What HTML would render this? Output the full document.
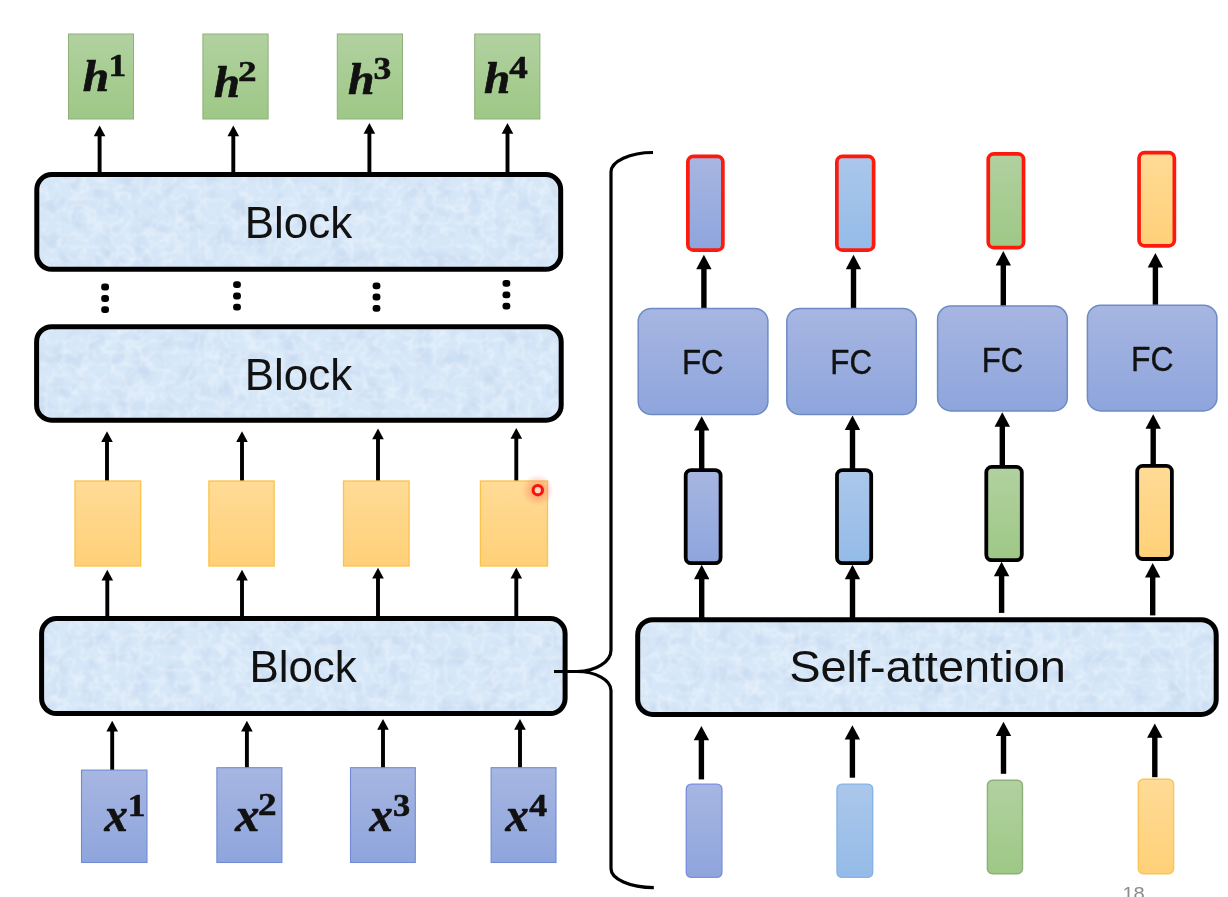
<!DOCTYPE html>
<html><head><meta charset="utf-8"><title>Transformer Encoder Block</title>
<style>
html,body{margin:0;padding:0;background:#fff;}
body{width:1228px;height:897px;overflow:hidden;font-family:"Liberation Sans",sans-serif;}
svg{display:block;filter:blur(0.45px);}
.sans{font-family:"Liberation Sans",sans-serif;fill:#111;}
.math{font-family:"Liberation Serif",serif;font-weight:bold;font-style:italic;fill:#111;}
.sup{font-family:"Liberation Serif",serif;font-weight:bold;font-style:normal;fill:#111;}
</style></head><body>
<svg width="1228" height="897" viewBox="0 0 1228 897">
<defs>
<linearGradient id="gGreen" x1="0" y1="0" x2="0" y2="1"><stop offset="0" stop-color="#b1d1a0"/><stop offset="1" stop-color="#9ec886"/></linearGradient>
<linearGradient id="gOrange" x1="0" y1="0" x2="0" y2="1"><stop offset="0" stop-color="#ffdb96"/><stop offset="1" stop-color="#ffd078"/></linearGradient>
<linearGradient id="gBlue" x1="0" y1="0" x2="0" y2="1"><stop offset="0" stop-color="#a7b6e2"/><stop offset="1" stop-color="#8ea5dc"/></linearGradient>
<linearGradient id="gLBlue" x1="0" y1="0" x2="0" y2="1"><stop offset="0" stop-color="#abc7ea"/><stop offset="1" stop-color="#94bbe8"/></linearGradient>
<radialGradient id="gGlow"><stop offset="0" stop-color="#ff3828" stop-opacity="0.5"/><stop offset="0.5" stop-color="#ff5a50" stop-opacity="0.28"/><stop offset="1" stop-color="#ff6050" stop-opacity="0"/></radialGradient>
<filter id="tex" x="0" y="0" width="100%" height="100%" color-interpolation-filters="sRGB">
<feTurbulence type="turbulence" baseFrequency="0.085" numOctaves="3" seed="11" result="n"/>
<feColorMatrix in="n" type="matrix" values="0 0 0 0 1  0 0 0 0 1  0 0 0 0 1  -1.7 0 0 0 0.50" result="w0"/>
<feGaussianBlur in="w0" stdDeviation="0.9" result="w"/>
<feComposite in="w" in2="SourceGraphic" operator="in" result="wc"/>
<feTurbulence type="fractalNoise" baseFrequency="0.06" numOctaves="2" seed="3" result="n2"/>
<feColorMatrix in="n2" type="matrix" values="0 0 0 0 0.70  0 0 0 0 0.78  0 0 0 0 0.90  0 0.9 0 0 -0.42" result="d"/>
<feComposite in="d" in2="SourceGraphic" operator="in" result="dc"/>
<feMerge><feMergeNode in="SourceGraphic"/><feMergeNode in="dc"/><feMergeNode in="wc"/></feMerge>
</filter>
</defs>
<rect width="1228" height="897" fill="#fff"/>

<rect x="68.5" y="34" width="65" height="85" fill="url(#gGreen)" stroke="#8fb07a" stroke-width="1"/>
<rect x="202.9" y="34" width="65.20000000000002" height="85" fill="url(#gGreen)" stroke="#8fb07a" stroke-width="1"/>
<rect x="337.3" y="34" width="65.19999999999999" height="85" fill="url(#gGreen)" stroke="#8fb07a" stroke-width="1"/>
<rect x="474.7" y="34" width="65.19999999999999" height="85" fill="url(#gGreen)" stroke="#8fb07a" stroke-width="1"/>
<text class="math" transform="translate(82.70,90.85) scale(0.4750,0.4391)" font-size="100" style="fill:#111" stroke="#111" stroke-width="1.53" stroke-linejoin="round">h</text>
<text class="sup" transform="translate(108.47,76.20) scale(0.3541,0.3242)" font-size="100" style="fill:#111" stroke="#111" stroke-width="1.77" stroke-linejoin="round">1</text>
<text class="math" transform="translate(213.92,96.75) scale(0.4667,0.4333)" font-size="100" style="fill:#111" stroke="#111" stroke-width="1.56" stroke-linejoin="round">h</text>
<text class="sup" transform="translate(238.11,81.00) scale(0.3714,0.3045)" font-size="100" style="fill:#111" stroke="#111" stroke-width="1.78" stroke-linejoin="round">2</text>
<text class="math" transform="translate(348.10,94.35) scale(0.4771,0.4362)" font-size="100" style="fill:#111" stroke="#111" stroke-width="1.53" stroke-linejoin="round">h</text>
<text class="sup" transform="translate(373.58,79.27) scale(0.3558,0.3149)" font-size="100" style="fill:#111" stroke="#111" stroke-width="1.79" stroke-linejoin="round">3</text>
<text class="math" transform="translate(484.00,93.05) scale(0.4729,0.4348)" font-size="100" style="fill:#111" stroke="#111" stroke-width="1.54" stroke-linejoin="round">h</text>
<text class="sup" transform="translate(509.33,78.20) scale(0.3702,0.3200)" font-size="100" style="fill:#111" stroke="#111" stroke-width="1.74" stroke-linejoin="round">4</text>
<line x1="99.6" y1="173" x2="99.6" y2="135.3" stroke="#000" stroke-width="3.9"/><polygon points="99.6,125.5 93.8,136.3 105.39999999999999,136.3" fill="#000"/>
<line x1="233.3" y1="173" x2="233.3" y2="135.3" stroke="#000" stroke-width="3.9"/><polygon points="233.3,125.5 227.5,136.3 239.10000000000002,136.3" fill="#000"/>
<line x1="369.4" y1="173" x2="369.4" y2="132.8" stroke="#000" stroke-width="3.9"/><polygon points="369.4,123 363.59999999999997,133.8 375.2,133.8" fill="#000"/>
<line x1="507.5" y1="173" x2="507.5" y2="132.8" stroke="#000" stroke-width="3.9"/><polygon points="507.5,123 501.7,133.8 513.3,133.8" fill="#000"/>
<rect x="36.8" y="174.5" width="523.9000000000001" height="94.80000000000001" rx="15" ry="15" fill="#d6e7f8" filter="url(#tex)"/><rect x="36.8" y="174.5" width="523.9000000000001" height="94.80000000000001" rx="15" ry="15" fill="none" stroke="#000" stroke-width="5"/><text class="sans" transform="translate(244.68,237.55) scale(0.4398,0.4486)" font-size="100" style="fill:#111">Block</text>
<rect x="101.19999999999999" y="283.6" width="7.8" height="6.8" rx="3" ry="3" fill="#000"/>
<rect x="101.19999999999999" y="295.1" width="7.8" height="6.8" rx="3" ry="3" fill="#000"/>
<rect x="101.19999999999999" y="306.20000000000005" width="7.8" height="6.8" rx="3" ry="3" fill="#000"/>
<rect x="233.1" y="281.20000000000005" width="7.8" height="6.8" rx="3" ry="3" fill="#000"/>
<rect x="233.1" y="292.6" width="7.8" height="6.8" rx="3" ry="3" fill="#000"/>
<rect x="233.1" y="303.8" width="7.8" height="6.8" rx="3" ry="3" fill="#000"/>
<rect x="372.6" y="282.40000000000003" width="7.8" height="6.8" rx="3" ry="3" fill="#000"/>
<rect x="372.6" y="293.6" width="7.8" height="6.8" rx="3" ry="3" fill="#000"/>
<rect x="372.6" y="305.0" width="7.8" height="6.8" rx="3" ry="3" fill="#000"/>
<rect x="502.5" y="280.0" width="7.8" height="6.8" rx="3" ry="3" fill="#000"/>
<rect x="502.5" y="291.40000000000003" width="7.8" height="6.8" rx="3" ry="3" fill="#000"/>
<rect x="502.5" y="302.70000000000005" width="7.8" height="6.8" rx="3" ry="3" fill="#000"/>
<rect x="36.6" y="326.7" width="524.6" height="93.5" rx="15" ry="15" fill="#d6e7f8" filter="url(#tex)"/><rect x="36.6" y="326.7" width="524.6" height="93.5" rx="15" ry="15" fill="none" stroke="#000" stroke-width="5"/><text class="sans" transform="translate(244.68,389.55) scale(0.4398,0.4486)" font-size="100" style="fill:#111">Block</text>
<line x1="107" y1="481" x2="107" y2="441.1" stroke="#000" stroke-width="3.9"/><polygon points="107,431.3 101.2,442.1 112.8,442.1" fill="#000"/>
<line x1="242" y1="481" x2="242" y2="441.1" stroke="#000" stroke-width="3.9"/><polygon points="242,431.3 236.2,442.1 247.8,442.1" fill="#000"/>
<line x1="378" y1="481" x2="378" y2="438.2" stroke="#000" stroke-width="3.9"/><polygon points="378,428.4 372.2,439.2 383.8,439.2" fill="#000"/>
<line x1="516.3" y1="481" x2="516.3" y2="437.8" stroke="#000" stroke-width="3.9"/><polygon points="516.3,428 510.49999999999994,438.8 522.0999999999999,438.8" fill="#000"/>
<rect x="75.0" y="481" width="65.69999999999999" height="85" fill="url(#gOrange)" stroke="#fbc349" stroke-width="1.3"/>
<rect x="208.9" y="481" width="65.20000000000002" height="85" fill="url(#gOrange)" stroke="#fbc349" stroke-width="1.3"/>
<rect x="343.5" y="481" width="65.60000000000002" height="85" fill="url(#gOrange)" stroke="#fbc349" stroke-width="1.3"/>
<rect x="480.4" y="481" width="67.10000000000002" height="85" fill="url(#gOrange)" stroke="#fbc349" stroke-width="1.3"/>
<circle cx="537.8" cy="490.2" r="16" fill="url(#gGlow)"/><circle cx="537.8" cy="490.2" r="4.65" fill="#ffd6c4" stroke="#f5150c" stroke-width="3.1"/>
<line x1="107.3" y1="617.5" x2="107.3" y2="579.5999999999999" stroke="#000" stroke-width="3.9"/><polygon points="107.3,569.8 101.5,580.5999999999999 113.1,580.5999999999999" fill="#000"/>
<line x1="242" y1="617.5" x2="242" y2="579.5999999999999" stroke="#000" stroke-width="3.9"/><polygon points="242,569.8 236.2,580.5999999999999 247.8,580.5999999999999" fill="#000"/>
<line x1="378" y1="617.5" x2="378" y2="577.5999999999999" stroke="#000" stroke-width="3.9"/><polygon points="378,567.8 372.2,578.5999999999999 383.8,578.5999999999999" fill="#000"/>
<line x1="516.3" y1="617.5" x2="516.3" y2="577.5999999999999" stroke="#000" stroke-width="3.9"/><polygon points="516.3,567.8 510.49999999999994,578.5999999999999 522.0999999999999,578.5999999999999" fill="#000"/>
<rect x="41.6" y="618.5" width="523.5" height="95.10000000000002" rx="15" ry="15" fill="#d6e7f8" filter="url(#tex)"/><rect x="41.6" y="618.5" width="523.5" height="95.10000000000002" rx="15" ry="15" fill="none" stroke="#000" stroke-width="5"/><text class="sans" transform="translate(249.39,681.55) scale(0.4390,0.4486)" font-size="100" style="fill:#111">Block</text>
<line x1="112.2" y1="770" x2="112.2" y2="730.5" stroke="#000" stroke-width="3.9"/><polygon points="112.2,720.7 106.4,731.5 118.0,731.5" fill="#000"/>
<line x1="246.9" y1="768" x2="246.9" y2="730.5" stroke="#000" stroke-width="3.9"/><polygon points="246.9,720.7 241.1,731.5 252.70000000000002,731.5" fill="#000"/>
<line x1="383" y1="768" x2="383" y2="728.8" stroke="#000" stroke-width="3.9"/><polygon points="383,719 377.2,729.8 388.8,729.8" fill="#000"/>
<line x1="520" y1="768" x2="520" y2="728.8" stroke="#000" stroke-width="3.9"/><polygon points="520,719 514.2,729.8 525.8,729.8" fill="#000"/>
<rect x="81.5" y="770.1" width="65.5" height="92.39999999999998" fill="url(#gBlue)" stroke="#6f8ad2" stroke-width="1.1"/>
<rect x="216.9" y="767.7" width="64.99999999999997" height="94.79999999999995" fill="url(#gBlue)" stroke="#6f8ad2" stroke-width="1.1"/>
<rect x="350.5" y="767.7" width="64.80000000000001" height="94.79999999999995" fill="url(#gBlue)" stroke="#6f8ad2" stroke-width="1.1"/>
<rect x="491.1" y="767.7" width="64.89999999999998" height="94.79999999999995" fill="url(#gBlue)" stroke="#6f8ad2" stroke-width="1.1"/>
<text class="math" transform="translate(104.52,831.45) scale(0.4667,0.4783)" font-size="100" style="fill:#111" stroke="#111" stroke-width="1.48" stroke-linejoin="round">x</text>
<text class="sup" transform="translate(127.67,816.00) scale(0.3541,0.3212)" font-size="100" style="fill:#111" stroke="#111" stroke-width="1.78" stroke-linejoin="round">1</text>
<text class="math" transform="translate(235.33,831.45) scale(0.4833,0.4783)" font-size="100" style="fill:#111" stroke="#111" stroke-width="1.46" stroke-linejoin="round">x</text>
<text class="sup" transform="translate(258.11,815.39) scale(0.3714,0.3091)" font-size="100" style="fill:#111" stroke="#111" stroke-width="1.76" stroke-linejoin="round">2</text>
<text class="math" transform="translate(369.62,831.45) scale(0.4667,0.4783)" font-size="100" style="fill:#111" stroke="#111" stroke-width="1.48" stroke-linejoin="round">x</text>
<text class="sup" transform="translate(393.02,815.66) scale(0.3442,0.3209)" font-size="100" style="fill:#111" stroke="#111" stroke-width="1.80" stroke-linejoin="round">3</text>
<text class="math" transform="translate(505.61,831.45) scale(0.4646,0.4783)" font-size="100" style="fill:#111" stroke="#111" stroke-width="1.48" stroke-linejoin="round">x</text>
<text class="sup" transform="translate(529.14,816.00) scale(0.3574,0.3185)" font-size="100" style="fill:#111" stroke="#111" stroke-width="1.78" stroke-linejoin="round">4</text>
<path d="M653,152.5 A42,19.5 0 0 0 611,172 L611,650 A34,21.5 0 0 1 577,671.5 L554,671.5 M577,671.5 A34,19 0 0 1 611,690.5 L611,868.5 A42.8,19 0 0 0 653.8,887.6" fill="none" stroke="#000" stroke-width="3.2"/>
<rect x="687.85" y="156.35" width="35.00000000000004" height="93.8" rx="5.5" ry="5.5" fill="url(#gBlue)" stroke="#fb1a0c" stroke-width="3.7"/>
<rect x="836.85" y="156.35" width="36.8" height="93.8" rx="5.5" ry="5.5" fill="url(#gLBlue)" stroke="#fb1a0c" stroke-width="3.7"/>
<rect x="988.25" y="153.85" width="35.30000000000011" height="93.8" rx="5.5" ry="5.5" fill="url(#gGreen)" stroke="#fb1a0c" stroke-width="3.7"/>
<rect x="1139.05" y="152.65" width="35.3" height="93.19999999999997" rx="5.5" ry="5.5" fill="url(#gOrange)" stroke="#fb1a0c" stroke-width="3.7"/>
<line x1="703.9" y1="309" x2="703.9" y2="268.2" stroke="#000" stroke-width="5.4"/><polygon points="703.9,254.79999999999998 696.1999999999999,269.2 711.6,269.2" fill="#000"/>
<line x1="853.5" y1="309" x2="853.5" y2="268.2" stroke="#000" stroke-width="5.4"/><polygon points="853.5,254.79999999999998 845.8,269.2 861.2,269.2" fill="#000"/>
<line x1="1003.3" y1="306.5" x2="1003.3" y2="264.5" stroke="#000" stroke-width="5.4"/><polygon points="1003.3,251.1 995.5999999999999,265.5 1011.0,265.5" fill="#000"/>
<line x1="1155.4" y1="305.7" x2="1155.4" y2="266.5" stroke="#000" stroke-width="5.4"/><polygon points="1155.4,253.1 1147.7,267.5 1163.1000000000001,267.5" fill="#000"/>
<rect x="638.2" y="308.4" width="129.69999999999993" height="106.20000000000005" rx="13.2" ry="13.2" fill="url(#gBlue)" stroke="#6e8bc4" stroke-width="1.5"/>
<text class="sans" transform="translate(681.97,374.47) scale(0.3128,0.3514)" font-size="100" style="fill:#111" stroke="#111" stroke-width="1.05" stroke-linejoin="round">FC</text>
<rect x="786.8" y="308.4" width="129.5" height="106.20000000000005" rx="13.2" ry="13.2" fill="url(#gBlue)" stroke="#6e8bc4" stroke-width="1.5"/>
<text class="sans" transform="translate(830.37,374.47) scale(0.3136,0.3514)" font-size="100" style="fill:#111" stroke="#111" stroke-width="1.05" stroke-linejoin="round">FC</text>
<rect x="937.6" y="306.0" width="129.69999999999993" height="104.89999999999998" rx="13.2" ry="13.2" fill="url(#gBlue)" stroke="#6e8bc4" stroke-width="1.5"/>
<text class="sans" transform="translate(981.69,372.07) scale(0.3112,0.3556)" font-size="100" style="fill:#111" stroke="#111" stroke-width="1.05" stroke-linejoin="round">FC</text>
<rect x="1087.4" y="305.2" width="129.5" height="105.69999999999999" rx="13.2" ry="13.2" fill="url(#gBlue)" stroke="#6e8bc4" stroke-width="1.5"/>
<text class="sans" transform="translate(1131.02,371.07) scale(0.3194,0.3585)" font-size="100" style="fill:#111" stroke="#111" stroke-width="1.03" stroke-linejoin="round">FC</text>
<line x1="701.7" y1="470" x2="701.7" y2="429.59999999999997" stroke="#000" stroke-width="5.4"/><polygon points="701.7,416.2 694.0,430.59999999999997 709.4000000000001,430.59999999999997" fill="#000"/>
<line x1="852.5" y1="470" x2="852.5" y2="428.9" stroke="#000" stroke-width="5.4"/><polygon points="852.5,415.5 844.8,429.9 860.2,429.9" fill="#000"/>
<line x1="1002.3" y1="466.4" x2="1002.3" y2="425.7" stroke="#000" stroke-width="5.4"/><polygon points="1002.3,412.3 994.5999999999999,426.7 1010.0,426.7" fill="#000"/>
<line x1="1153.2" y1="465.6" x2="1153.2" y2="427.7" stroke="#000" stroke-width="5.4"/><polygon points="1153.2,414.3 1145.5,428.7 1160.9,428.7" fill="#000"/>
<rect x="685.6999999999999" y="470.09999999999997" width="34.90000000000005" height="93.10000000000004" rx="5.5" ry="5.5" fill="url(#gBlue)" stroke="#000" stroke-width="3.8"/>
<rect x="837.0" y="470.09999999999997" width="34.2" height="93.10000000000004" rx="5.5" ry="5.5" fill="url(#gLBlue)" stroke="#000" stroke-width="3.8"/>
<rect x="986.3" y="466.9" width="35.50000000000007" height="93.30000000000003" rx="5.5" ry="5.5" fill="url(#gGreen)" stroke="#000" stroke-width="3.8"/>
<rect x="1137.2" y="465.9" width="34.7" height="93.09999999999998" rx="5.5" ry="5.5" fill="url(#gOrange)" stroke="#000" stroke-width="3.8"/>
<line x1="701.7" y1="618" x2="701.7" y2="578.2" stroke="#000" stroke-width="5.4"/><polygon points="701.7,564.8000000000001 694.0,579.2 709.4000000000001,579.2" fill="#000"/>
<line x1="852.5" y1="618" x2="852.5" y2="578.2" stroke="#000" stroke-width="5.4"/><polygon points="852.5,564.8000000000001 844.8,579.2 860.2,579.2" fill="#000"/>
<line x1="1001.6" y1="612.9" x2="1001.6" y2="575.2" stroke="#000" stroke-width="5.4"/><polygon points="1001.6,561.8000000000001 993.9,576.2 1009.3000000000001,576.2" fill="#000"/>
<line x1="1152.7" y1="615.4" x2="1152.7" y2="576.5" stroke="#000" stroke-width="5.4"/><polygon points="1152.7,563.1 1145.0,577.5 1160.4,577.5" fill="#000"/>
<rect x="637.7" y="619.7" width="578.5" height="94.79999999999995" rx="15" ry="15" fill="#d6e7f8" filter="url(#tex)"/><rect x="637.7" y="619.7" width="578.5" height="94.79999999999995" rx="15" ry="15" fill="none" stroke="#000" stroke-width="5"/><text class="sans" transform="translate(789.15,682.16) scale(0.4696,0.4392)" font-size="100" style="fill:#111">Self-attention</text>
<line x1="701.4" y1="779.4" x2="701.4" y2="739.3000000000001" stroke="#000" stroke-width="5.4"/><polygon points="701.4,725.9000000000001 693.6999999999999,740.3000000000001 709.1,740.3000000000001" fill="#000"/>
<line x1="852.4" y1="777.7" x2="852.4" y2="738.6" stroke="#000" stroke-width="5.4"/><polygon points="852.4,725.2 844.6999999999999,739.6 860.1,739.6" fill="#000"/>
<line x1="1003.5" y1="773.8" x2="1003.5" y2="735.1" stroke="#000" stroke-width="5.4"/><polygon points="1003.5,721.7 995.8,736.1 1011.2,736.1" fill="#000"/>
<line x1="1154.8" y1="777.2" x2="1154.8" y2="736.8000000000001" stroke="#000" stroke-width="5.4"/><polygon points="1154.8,723.4000000000001 1147.1,737.8000000000001 1162.5,737.8000000000001" fill="#000"/>
<rect x="686.3" y="784.1" width="35.60000000000002" height="93.29999999999995" rx="5" ry="5" fill="url(#gBlue)" stroke="#7f8fe0" stroke-width="1.4"/>
<rect x="837.0" y="784.1" width="35.700000000000045" height="93.29999999999995" rx="5" ry="5" fill="url(#gLBlue)" stroke="#86b4e8" stroke-width="1.4"/>
<rect x="987.4" y="780.3" width="35.10000000000002" height="93.40000000000009" rx="5" ry="5" fill="url(#gGreen)" stroke="#8fb07a" stroke-width="1.4"/>
<rect x="1138.3" y="779.3" width="35.299999999999955" height="94.40000000000009" rx="5" ry="5" fill="url(#gOrange)" stroke="#fcc458" stroke-width="1.4"/>
<text class="sans" transform="translate(1122.38,900.32) scale(0.2020,0.1845)" font-size="100" style="fill:#8c8c8c">18</text>
</svg></body></html>
